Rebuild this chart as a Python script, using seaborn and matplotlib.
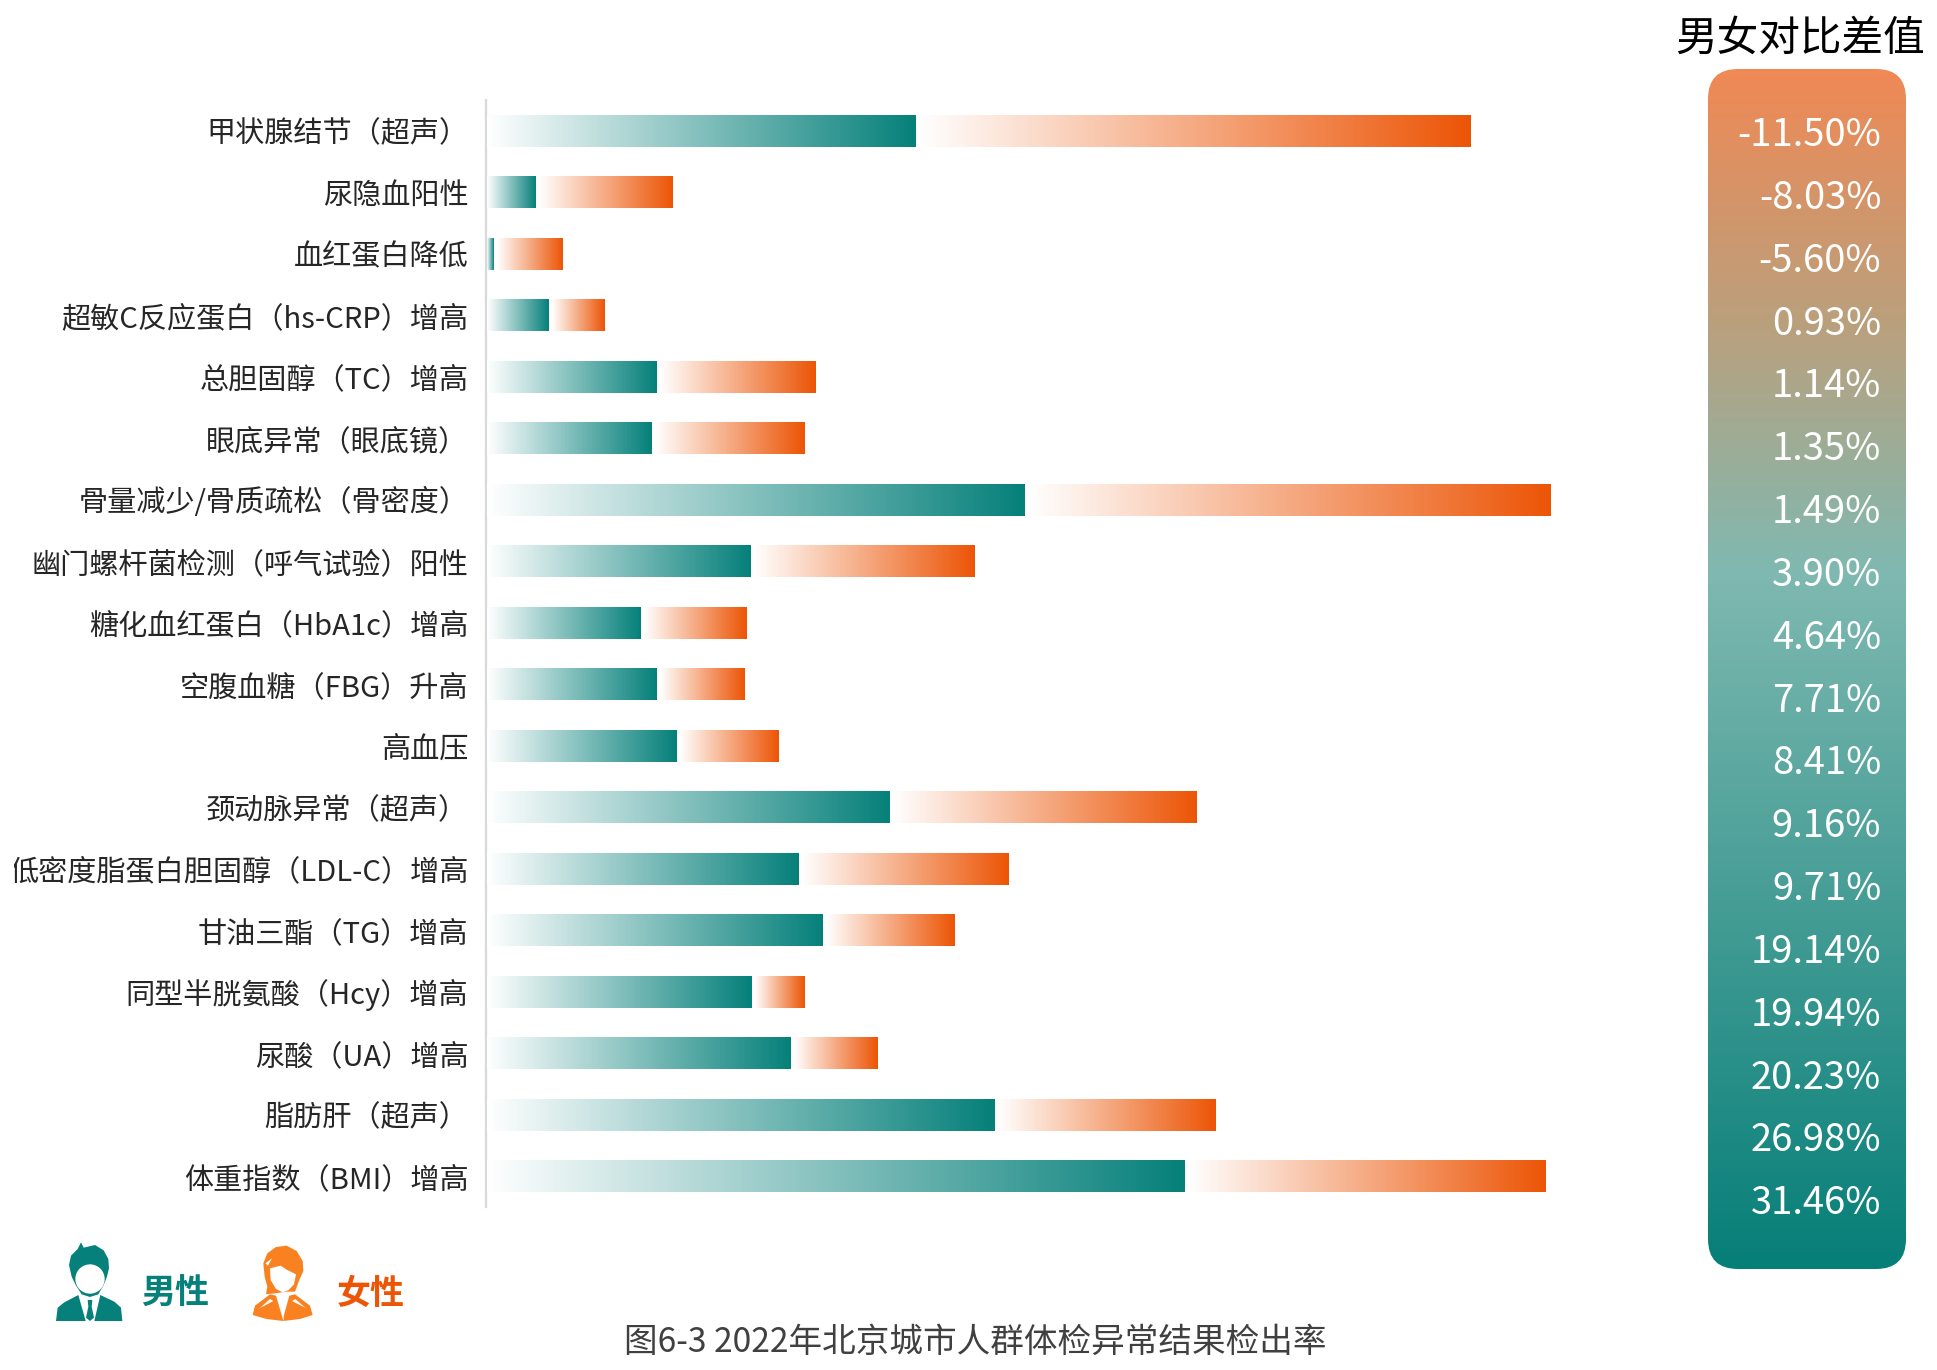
import numpy as np
import seaborn as sns
import matplotlib.pyplot as plt

from matplotlib.colors import LinearSegmentedColormap
from matplotlib.patches import FancyBboxPatch, Polygon, Ellipse
from matplotlib.transforms import Affine2D, Bbox


W, H = 1937, 1370

labels = ['甲状腺结节（超声）', '尿隐血阳性', '血红蛋白降低', '超敏C反应蛋白（hs-CRP）增高',
          '总胆固醇（TC）增高', '眼底异常（眼底镜）', '骨量减少/骨质疏松（骨密度）',
          '幽门螺杆菌检测（呼气试验）阳性', '糖化血红蛋白（HbA1c）增高', '空腹血糖（FBG）升高',
          '高血压', '颈动脉异常（超声）', '低密度脂蛋白胆固醇（LDL-C）增高', '甘油三酯（TG）增高',
          '同型半胱氨酸（Hcy）增高', '尿酸（UA）增高', '脂肪肝（超声）', '体重指数（BMI）增高']
male = [39.9, 4.5, 0.6, 5.7, 15.8, 15.3, 50.0, 24.5, 14.3, 15.8, 17.6, 37.4, 29.0, 31.2, 24.6, 28.2, 47.2, 64.9]
female = [51.3, 12.4, 6.1, 4.9, 14.5, 13.95, 48.65, 20.5, 9.5, 7.9, 9.2, 28.2, 19.2, 12.0, 4.6, 7.8, 20.2, 33.25]
diffs = ['-11.50%', '-8.03%', '-5.60%', '0.93%', '1.14%', '1.35%', '1.49%', '3.90%', '4.64%',
         '7.71%', '8.41%', '9.16%', '9.71%', '19.14%', '19.94%', '20.23%', '26.98%', '31.46%']

TEAL = '#06807a'
ORANGE = '#ec5506'
GAP = 0.3  # white slit between the two bars


def px_axes(fig, left, top, right, bottom):
    return fig.add_axes([left / W, 1 - bottom / H, (right - left) / W, (bottom - top) / H])


def gradient_bars(ax, patches, color):
    cmap = LinearSegmentedColormap.from_list('bar', ['#ffffff', color])
    for p in patches:
        x0, y0, w, h = p.get_x(), p.get_y(), p.get_width(), p.get_height()
        ax.imshow(np.linspace(0, 1, 256)[None, :], extent=[x0, x0 + w, y0 + h, y0], cmap=cmap,
                  aspect='auto', interpolation='bilinear', zorder=3)
        p.set_facecolor('none')
        p.set_linewidth(0)


def shape(ax, points, ox, oy, color, zorder=5):
    # icon outlines are traced in 3x crop coordinates
    pts = [(ox + x / 3, oy + y / 3) for x, y in points]
    ax.add_patch(Polygon(pts, closed=True, facecolor=color, edgecolor='none', zorder=zorder))


def draw_male(ax, ox, oy, color):
    shape(ax, [(72, 90), (78, 62), (98, 42), (108, 22), (116, 38), (150, 30), (176, 46), (190, 72),
               (192, 100), (186, 125), (176, 150), (160, 178), (135, 186), (110, 178), (92, 150),
               (80, 125)], ox, oy, color)
    ax.add_patch(Ellipse((ox + 135 / 3, oy + 132 / 3), 88 / 3, 88 / 3, facecolor='white', edgecolor='none', zorder=6))
    shape(ax, [(33, 258), (38, 218), (58, 202), (100, 180), (122, 258)], ox, oy, color)
    shape(ax, [(232, 258), (228, 218), (208, 200), (166, 180), (148, 258)], ox, oy, color)
    shape(ax, [(128, 195), (142, 195), (140, 215), (147, 248), (135, 258), (123, 248), (130, 215)], ox, oy, color)


def draw_female(ax, ox, oy, color):
    shape(ax, [(70, 85), (82, 55), (108, 36), (140, 32), (170, 48), (188, 78), (190, 108), (178, 135),
               (165, 170), (140, 170), (105, 175), (78, 178), (82, 155), (74, 125)], ox, oy, color)
    shape(ax, [(90, 100), (122, 92), (140, 104), (168, 118), (162, 148), (145, 166), (128, 172), (108, 162),
               (92, 135)], ox, oy, 'white', zorder=6)
    shape(ax, [(76, 85), (96, 70), (84, 92)], ox, oy, 'white', zorder=6)
    shape(ax, [(38, 240), (45, 212), (90, 178), (108, 182), (125, 240), (130, 258), (80, 252)], ox, oy, color)
    shape(ax, [(218, 240), (210, 212), (165, 178), (148, 182), (132, 240), (130, 258), (180, 252)], ox, oy, color)
    shape(ax, [(52, 226), (90, 192), (100, 198), (62, 218)], ox, oy, 'white', zorder=6)
    shape(ax, [(205, 226), (166, 192), (156, 198), (195, 218)], ox, oy, 'white', zorder=6)


sns.set_theme(style='white')
plt.rcParams['font.family'] = ['Noto Sans CJK SC', 'DejaVu Sans']

fig = plt.figure(figsize=(W / 100, H / 100), dpi=100)

# main chart
ax = px_axes(fig, 486.5, 100, 1650, 1207)
sns.barplot(x=male, y=labels, color=TEAL, width=0.52, saturation=1, ax=ax)
n_male = len(ax.patches)
sns.barplot(x=female, y=labels, color=ORANGE, width=0.52, saturation=1, ax=ax)
male_bars = list(ax.patches[:n_male])
female_bars = list(ax.patches[n_male:])
for bar, m in zip(female_bars, male):
    bar.set_x(m + GAP)
gradient_bars(ax, male_bars, TEAL)
gradient_bars(ax, female_bars, ORANGE)

ax.set_xlim(-0.08, (1650 - 487.3) / 10.75)
ax.set_ylim(17.5, -0.5)
ax.set_xlabel('')
ax.set_ylabel('')
ax.set_xticks([])
sns.despine(ax=ax, left=False, bottom=True)
ax.spines['left'].set_color('#d9d9d9')
ax.spines['left'].set_linewidth(1.6)
ax.tick_params(axis='y', length=0, pad=13, labelsize=21, labelcolor='#262626')
for t in ax.get_yticklabels():
    # the long label is cut at the left in the source picture
    t.set_clip_box(Bbox([[14, 0], [W, H]]))
    t.set_clip_on(True)

# difference panel
panel = px_axes(fig, 1708, 69, 1906, 1269)
panel.set_xlim(0, 1)
panel.set_ylim(18.04, -1.062)
panel.axis('off')
panel_cmap = LinearSegmentedColormap.from_list(
    'panel', [(0, '#ef8955'), (0.2, '#bd9f7b'), (0.42, '#7fb9b1'), (1, '#067f78')])
im = panel.imshow(np.linspace(0, 1, 256)[:, None], extent=[0, 1, 18.04, -1.062], cmap=panel_cmap,
                  aspect='auto', interpolation='bilinear')
box = FancyBboxPatch((0, 0), 198, 1200, boxstyle='round,pad=0,rounding_size=30', linewidth=0,
                     facecolor='none')
box.set_transform(Affine2D().translate(1708, H - 1269))
panel.add_patch(box)
im.set_clip_path(box)
for i, d in enumerate(diffs):
    panel.text(0.875, i, d, color='white', fontsize=27.5, ha='right', va='center')

# overlay in picture pixels for the free text and legend
over = px_axes(fig, 0, 0, W, H)
over.set_xlim(0, W)
over.set_ylim(H, 0)
over.axis('off')
over.patch.set_alpha(0)

over.text(1800, 39, '男女对比差值', fontsize=30, color='black', ha='center', va='center')
over.text(975, 1342, '图6-3 2022年北京城市人群体检异常结果检出率', fontsize=24.2, color='#404040', ha='center', va='center')
draw_male(over, 45, 1235, TEAL)
draw_female(over, 240, 1235, '#f9811f')
over.text(175, 1293, '男性', fontsize=24.5, color=TEAL, fontweight='bold', ha='center', va='center')
over.text(371, 1293, '女性', fontsize=24.5, color=ORANGE, fontweight='bold', ha='center', va='center')

plt.savefig('out.png', dpi=100)
plt.close(fig)
